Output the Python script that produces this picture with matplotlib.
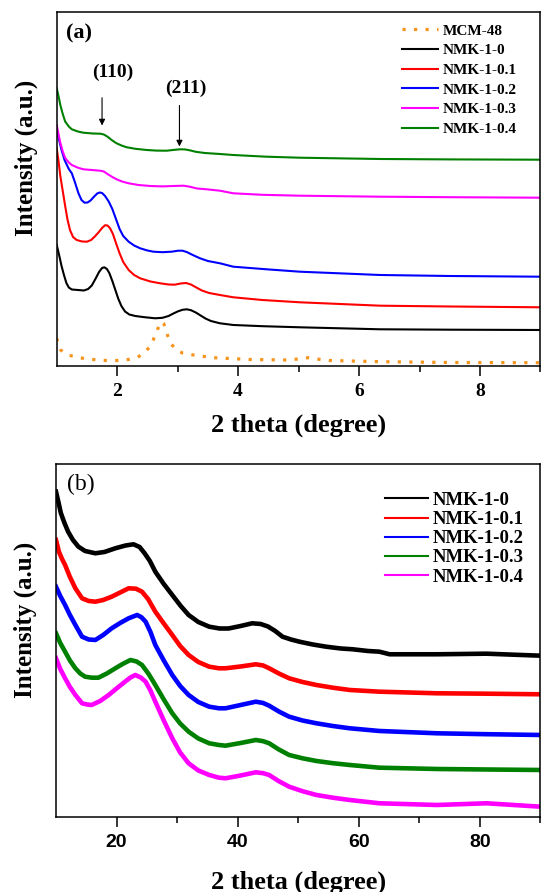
import numpy as np
import matplotlib
matplotlib.use("Agg")
import matplotlib.pyplot as plt

# ---- (a) low-angle XRD ----
sa_labels = ["MCM-48", "NMK-1-0", "NMK-1-0.1", "NMK-1-0.2", "NMK-1-0.3", "NMK-1-0.4"]
sa_colors = ["#f7941d", "black", "red", "blue", "magenta", "green"]

mcm_x = [1.00, 1.03, 1.06, 1.12, 1.19, 1.35, 1.55, 1.75, 1.88, 2.05, 2.21, 2.32, 2.40, 2.47,
         2.54, 2.59, 2.63, 2.67, 2.71, 2.74, 2.77, 2.80, 2.84, 2.89, 2.95, 3.02, 3.09, 3.26,
         3.59, 4.20, 4.80, 5.00, 5.16, 5.30, 5.50, 6.35, 7.50, 9.00]
mcm_y = [27.7, 21.0, 16.5, 13.0, 11.0, 8.5, 6.7, 5.7, 5.3, 5.6, 6.7, 8.3, 11.0, 14.5,
         19.3, 25.0, 31.0, 37.0, 42.0, 44.3, 42.5, 37.5, 29.5, 22.5, 17.8, 14.8, 12.7, 11.0,
         8.3, 6.5, 6.0, 7.0, 8.3, 7.0, 5.5, 4.3, 3.5, 3.3]

nmk0_x = [1.00, 1.04, 1.08, 1.12, 1.16, 1.20, 1.25, 1.35, 1.45, 1.52, 1.58, 1.64, 1.70,
          1.75, 1.79, 1.83, 1.87, 1.92, 1.97, 2.02, 2.07, 2.13, 2.20, 2.30, 2.45, 2.63,
          2.75, 2.85, 2.93, 3.00, 3.08, 3.15, 3.22, 3.30, 3.38, 3.46, 3.55, 3.70, 3.92,
          4.40, 5.02, 6.35, 7.50, 9.00]
nmk0_y = [121.0, 111.0, 100.0, 91.0, 83.0, 78.5, 76.5, 76.0, 75.5, 77.0, 80.5, 87.0, 94.0,
          98.0, 98.7, 97.0, 93.0, 85.0, 76.0, 67.0, 60.0, 54.5, 51.5, 50.0, 48.8, 47.7,
          48.2, 50.0, 52.5, 54.5, 56.2, 56.7, 55.8, 53.5, 50.5, 47.5, 45.0, 42.7, 41.0,
          39.8, 38.7, 36.7, 36.3, 36.0]

nmk01_x = [1.00, 1.03, 1.06, 1.10, 1.14, 1.18, 1.22, 1.27, 1.33, 1.42, 1.50, 1.57, 1.63,
           1.69, 1.75, 1.80, 1.84, 1.88, 1.93, 1.98, 2.04, 2.10, 2.19, 2.28, 2.38, 2.55,
           2.71, 2.85, 2.95, 3.05, 3.14, 3.22, 3.30, 3.40, 3.52, 3.70, 3.92, 4.40, 5.02,
           6.35, 7.50, 9.00]
nmk01_y = [217.7, 205.0, 190.0, 175.0, 160.0, 146.0, 136.0, 129.0, 126.0, 124.5, 124.3,
           126.0, 129.5, 133.5, 138.0, 140.8, 140.5, 138.0, 132.0, 123.0, 112.7, 104.0,
           96.0, 91.0, 87.7, 84.5, 82.7, 81.5, 81.3, 82.5, 83.0, 81.5, 78.8, 75.5, 73.0,
           71.0, 68.7, 66.0, 63.7, 60.3, 59.5, 58.7]

nmk02_x = [1.00, 1.04, 1.08, 1.13, 1.20, 1.25, 1.30, 1.36, 1.41, 1.46, 1.51, 1.56, 1.62,
           1.67, 1.71, 1.75, 1.80, 1.86, 1.92, 1.98, 2.04, 2.10, 2.19, 2.28, 2.38, 2.50,
           2.60, 2.75, 2.90, 3.01, 3.08, 3.15, 3.25, 3.37, 3.50, 3.70, 3.92, 4.47, 5.02,
           6.35, 7.50, 9.00]
nmk02_y = [236.0, 226.0, 216.0, 206.0, 197.0, 192.7, 184.0, 172.7, 166.0, 163.3, 163.5,
           165.5, 169.5, 172.5, 173.5, 173.0, 170.0, 164.5, 157.0, 147.0, 137.0, 130.0,
           124.3, 120.5, 117.7, 115.5, 114.3, 113.8, 114.3, 115.3, 115.3, 114.0, 111.0,
           107.7, 105.0, 102.7, 99.3, 96.7, 94.3, 91.0, 90.0, 89.3]

nmk03_x = [1.00, 1.03, 1.06, 1.10, 1.14, 1.20, 1.25, 1.35, 1.44, 1.58, 1.72, 1.78, 1.84,
           1.92, 1.99, 2.08, 2.19, 2.35, 2.55, 2.75, 2.93, 3.10, 3.20, 3.32, 3.48, 3.70,
           3.92, 4.40, 5.02, 6.35, 7.50, 9.00]
nmk03_y = [241.0, 232.0, 223.0, 214.5, 208.0, 203.5, 201.0, 198.3, 196.7, 196.0, 195.3,
           194.5, 192.0, 189.0, 186.7, 184.5, 182.7, 181.0, 180.0, 179.6, 180.0, 180.3,
           179.3, 177.5, 176.7, 175.3, 172.7, 171.2, 170.3, 169.3, 168.8, 168.3]

nmk04_x = [1.00, 1.03, 1.06, 1.10, 1.14, 1.20, 1.25, 1.35, 1.44, 1.60, 1.72, 1.78, 1.84,
           1.92, 1.99, 2.08, 2.16, 2.30, 2.49, 2.65, 2.82, 2.95, 3.04, 3.12, 3.20, 3.30,
           3.45, 3.70, 3.92, 4.47, 5.02, 6.35, 7.50, 9.00]
nmk04_y = [277.7, 270.0, 261.0, 252.0, 244.5, 239.5, 236.7, 234.5, 233.3, 232.5, 232.3,
           231.5, 229.3, 225.5, 222.7, 220.3, 218.7, 217.2, 216.0, 215.4, 215.3, 216.2,
           216.7, 216.6, 215.7, 214.2, 213.0, 212.0, 211.0, 209.3, 208.3, 207.0, 206.6, 206.3]

# ---- (b) wide-angle XRD ----
wa_labels = ["NMK-1-0", "NMK-1-0.1", "NMK-1-0.2", "NMK-1-0.3", "NMK-1-0.4"]
wa_colors = ["black", "red", "blue", "green", "magenta"]

w0_x = [10.0, 10.4, 10.8, 11.4, 12.0, 12.8, 13.7, 14.8, 16.5, 18.0, 19.8, 21.5, 22.8, 23.8,
        24.6, 25.5, 26.4, 27.8, 29.2, 30.6, 31.9, 33.5, 35.3, 37.0, 38.5, 40.5, 42.4, 43.8,
        45.0, 46.2, 47.4, 48.8, 50.2, 52.4, 54.6, 57.0, 59.0, 61.5, 63.4, 65.1, 69.0, 72.9,
        77.0, 81.1, 85.5, 90.0]
w0_y = [325.3, 315.0, 304.0, 294.0, 285.3, 277.0, 270.3, 266.0, 263.7, 265.0, 268.7, 271.5,
        272.7, 270.0, 264.0, 256.0, 245.3, 233.0, 222.0, 211.0, 202.0, 195.0, 190.3, 188.5,
        188.5, 191.0, 193.7, 193.0, 190.5, 186.0, 180.3, 177.5, 175.3, 172.5, 170.3, 168.5,
        167.7, 166.0, 165.3, 162.7, 162.7, 162.7, 163.0, 163.3, 162.3, 161.3]

w1_x = [10.0, 10.5, 11.0, 11.5, 12.3, 13.2, 14.3, 15.4, 16.5, 17.8, 19.2, 20.6, 22.0, 23.2,
        24.2, 25.2, 26.4, 27.8, 29.2, 30.5, 31.9, 33.5, 35.3, 36.9, 38.0, 40.5, 43.0, 44.2,
        45.2, 46.8, 48.5, 50.7, 53.0, 55.7, 58.5, 63.4, 72.9, 81.0, 90.0]
w1_y = [277.0, 265.0, 258.0, 252.0, 240.0, 228.7, 218.7, 216.0, 215.3, 217.0, 220.3, 224.5,
        228.7, 228.3, 225.3, 218.0, 205.3, 193.5, 182.0, 171.0, 162.0, 155.0, 150.3, 148.7,
        148.7, 150.5, 152.7, 151.5, 148.7, 143.5, 138.7, 135.0, 132.0, 129.3, 127.0, 125.3,
        123.7, 123.3, 122.7]

w2_x = [10.0, 10.7, 11.5, 12.3, 13.2, 14.3, 15.4, 16.5, 17.8, 19.2, 20.6, 22.0, 23.4, 24.1,
        24.8, 25.6, 26.4, 27.8, 29.2, 30.5, 31.9, 33.5, 35.3, 36.9, 38.0, 40.5, 43.0, 44.2,
        45.2, 46.8, 48.5, 50.7, 53.0, 55.7, 58.5, 63.4, 72.9, 81.0, 90.0]
w2_y = [230.3, 221.0, 212.0, 202.0, 192.0, 180.3, 177.5, 177.0, 182.0, 188.7, 194.0, 198.7,
        202.0, 199.8, 195.3, 185.0, 172.0, 156.5, 142.0, 131.0, 122.0, 115.0, 110.3, 108.7,
        108.7, 112.0, 115.3, 114.0, 111.3, 105.5, 100.3, 96.5, 93.7, 91.0, 88.7, 86.0,
        83.7, 82.8, 82.0]

w3_x = [10.0, 10.7, 11.5, 12.3, 13.2, 14.0, 14.8, 15.9, 17.0, 18.4, 19.8, 21.0, 22.3, 23.3,
        24.2, 25.3, 26.4, 27.8, 29.2, 30.5, 31.9, 33.5, 35.3, 36.9, 38.0, 40.5, 43.0, 44.2,
        45.2, 46.8, 48.5, 50.7, 53.0, 55.7, 58.5, 63.4, 72.9, 81.0, 90.0]
w3_y = [183.7, 174.0, 165.3, 156.5, 148.7, 143.5, 140.3, 139.3, 139.3, 143.5, 148.7, 153.0,
        157.0, 155.5, 152.0, 143.0, 132.0, 117.5, 103.7, 93.5, 85.3, 78.5, 73.7, 72.0,
        71.3, 74.0, 77.0, 75.8, 73.7, 67.5, 62.0, 58.7, 56.0, 53.8, 52.0, 49.3, 48.0,
        47.5, 47.0]

w4_x = [10.0, 10.7, 11.5, 12.3, 13.2, 14.3, 15.1, 15.9, 17.3, 18.7, 20.0, 21.4, 22.3, 23.1,
        24.0, 24.8, 25.6, 26.4, 27.8, 29.2, 30.5, 31.9, 33.5, 35.3, 36.9, 38.0, 40.5, 43.0,
        44.2, 45.2, 46.8, 48.5, 50.7, 53.0, 55.7, 58.5, 63.4, 72.9, 81.1, 90.0]
w4_y = [158.7, 148.0, 138.7, 130.0, 122.0, 113.7, 112.5, 112.0, 116.0, 122.0, 128.5, 135.3,
        139.5, 142.0, 139.5, 135.3, 126.5, 115.3, 96.5, 78.7, 64.5, 53.7, 46.5, 42.0, 39.3,
        38.7, 41.5, 44.7, 43.8, 42.0, 35.8, 30.3, 25.8, 22.0, 19.3, 17.0, 13.7, 12.0,
        13.7, 10.3]

serif = "Liberation Serif"
sans = "Liberation Sans"

fig = plt.figure(figsize=(5.41, 8.92), dpi=100)
ax1 = fig.add_axes([0.1048, 0.5897, 0.8942, 0.3965])
ax2 = fig.add_axes([0.1035, 0.0841, 0.8955, 0.3954])

# top panel
sa_x = [mcm_x, nmk0_x, nmk01_x, nmk02_x, nmk03_x, nmk04_x]
sa_y = [mcm_y, nmk0_y, nmk01_y, nmk02_y, nmk03_y, nmk04_y]
for i in range(len(sa_labels)):
    if i == 0:
        ax1.plot(sa_x[i], sa_y[i], color=sa_colors[i], lw=2.3, ls=(0, (1.0, 2.6)),
                 label=sa_labels[i])
    else:
        ax1.plot(sa_x[i], sa_y[i], color=sa_colors[i], lw=1.5, label=sa_labels[i])

ax1.set_xlim(1, 9)
ax1.set_ylim(0, 353.7)
ax1.set_xticks([2, 4, 6, 8])
ax1.set_xticks([3, 5, 7, 9], minor=True)

ax1.annotate("", xy=(1.75, 237.7), xytext=(1.75, 271),
             arrowprops=dict(arrowstyle="-|>", color="black", lw=0.8, mutation_scale=9))
ax1.annotate("", xy=(3.03, 216.7), xytext=(3.03, 263.3),
             arrowprops=dict(arrowstyle="-|>", color="black", lw=0.8, mutation_scale=9))
ax1.text(1.92, 294, "(110)", family=serif, weight="bold", fontsize=14,
         ha="center", va="center")
ax1.text(3.14, 277.7, "(211)", family=serif, weight="bold", fontsize=14,
         ha="center", va="center")
ax1.text(0.046, 0.939, "(a)", transform=ax1.transAxes, family=serif, weight="bold",
         fontsize=16, ha="center", va="center")

ax1.legend(loc="upper left", bbox_to_anchor=(0.713, 0.967), frameon=False,
           borderpad=0, borderaxespad=0, handlelength=2.4, handletextpad=0.27,
           labelspacing=0.39, prop=dict(family=serif, weight="bold", size=11))

# bottom panel
wa_x = [w0_x, w1_x, w2_x, w3_x, w4_x]
wa_y = [w0_y, w1_y, w2_y, w3_y, w4_y]
for i in range(len(wa_labels)):
    ax2.plot(wa_x[i], wa_y[i], color=wa_colors[i], lw=3.3, label=wa_labels[i])

ax2.set_xlim(10, 90)
ax2.set_ylim(0, 352.7)
ax2.set_xticks([20, 40, 60, 80])
ax2.set_xticks([30, 50, 70, 90], minor=True)
ax2.text(0.052, 0.944, "(b)", transform=ax2.transAxes, family=serif,
         fontsize=17, ha="center", va="center")

leg = ax2.legend(loc="upper left", bbox_to_anchor=(0.679, 0.922), frameon=False,
                 borderpad=0, borderaxespad=0, handlelength=2.3, handletextpad=0.26,
                 labelspacing=0.11, prop=dict(family=serif, weight="bold", size=13.5))
for line in leg.get_lines():
    line.set_linewidth(1.5)

for ax, tick_font in [(ax1, serif), (ax2, sans)]:
    ax.set_yticks([])
    for sp in ax.spines.values():
        sp.set_linewidth(1.1)
    ax.tick_params(axis="x", which="major", direction="out", length=7, width=1.1, pad=5)
    ax.tick_params(axis="x", which="minor", direction="out", length=4, width=1.1)
    for lab in ax.get_xticklabels():
        lab.set_family(tick_font)
        lab.set_weight("bold")
        lab.set_fontsize(14)

ax1.set_xlabel("2 theta (degree)", family=serif, weight="bold", fontsize=19, va="center")
ax1.xaxis.set_label_coords(0.5, -0.167)
ax1.set_ylabel("Intensity (a.u.)", family=serif, weight="bold", fontsize=18, va="center")
ax1.yaxis.set_label_coords(-0.063, 0.588)

ax2.set_xlabel("2 theta (degree)", family=serif, weight="bold", fontsize=19, va="center")
ax2.xaxis.set_label_coords(0.5, -0.184)
ax2.set_ylabel("Intensity (a.u.)", family=serif, weight="bold", fontsize=18, va="center")
ax2.yaxis.set_label_coords(-0.064, 0.559)

fig.savefig("out.png", dpi=100)
